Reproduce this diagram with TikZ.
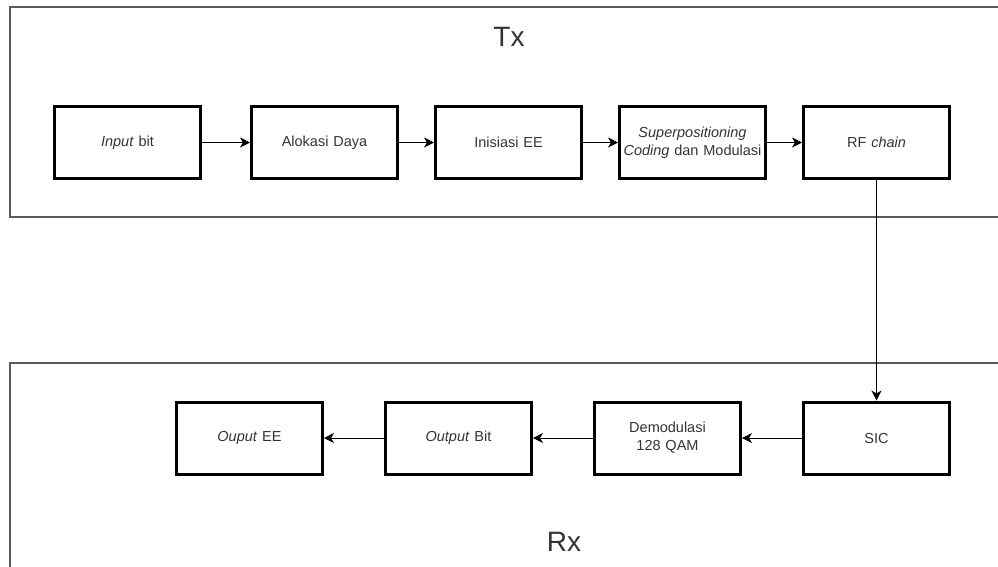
\documentclass[tikz,border=0pt]{standalone}
\usepackage{fontspec}
\setmainfont{Liberation Sans}
\usepackage{xcolor}
\usepackage{tikz}
\usetikzlibrary{arrows.meta,positioning}
\tikzset{
  blk/.style={rectangle, draw=black, line width=3pt, minimum width=146pt, minimum height=72pt, text width=146pt, align=center, font=\fontsize{14.5}{18}\selectfont, text=txtgray, inner sep=0pt},
  panel/.style={draw=framegray, line width=2pt},
  panellbl/.style={font=\fontsize{28}{32}\selectfont, text=txtgray},
  barrow/.style={-{Stealth[length=10pt,width=10pt,inset=3pt]}, line width=1pt, black}
}
\definecolor{txtgray}{RGB}{51,51,51}
\definecolor{framegray}{RGB}{90,90,90}

\begin{document}
\begin{tikzpicture}[x=1pt, y=-1pt, node distance=35pt]
\useasboundingbox (0,0) rectangle (998,566);
\clip (0,0) rectangle (998,566);
% Tx and Rx frames
\draw[panel] (10,7) rectangle (1010,217);
\draw[panel] (10,363) rectangle (1010,600);
\node[panellbl] (txlbl) at (509,37) {Tx};
\node[panellbl] (rxlbl) at (564,542) {Rx};
% transmitter chain
\node[blk] (inbit) at (127.5,142.5) {\textit{Input} bit};
\node[blk, right=48pt of inbit] (alokasi) {Alokasi Daya};
\node[blk, right=of alokasi] (inisiasi) {Inisiasi EE};
\node[blk, right=of inisiasi] (superpos) {\textit{Superpositioning}\\\textit{Coding} dan Modulasi};
\node[blk, right=of superpos] (rf) {RF \textit{chain}};
% receiver chain
\node[blk, below=220.5pt of rf] (sic) {SIC};
\node[blk, left=60pt of sic] (demod) {Demodulasi\\128 QAM};
\node[blk, left=60pt of demod] (outbit) {\textit{Output} Bit};
\node[blk, left=60pt of outbit] (outee) {\textit{Ouput} EE};
\draw[barrow] (inbit) -- (alokasi);
\draw[barrow] (alokasi) -- (inisiasi);
\draw[barrow] (inisiasi) -- (superpos);
\draw[barrow] (superpos) -- (rf);
\draw[barrow] (rf) -- (sic);
\draw[barrow] (sic) -- (demod);
\draw[barrow] (demod) -- (outbit);
\draw[barrow] (outbit) -- (outee);
\end{tikzpicture}
\end{document}
